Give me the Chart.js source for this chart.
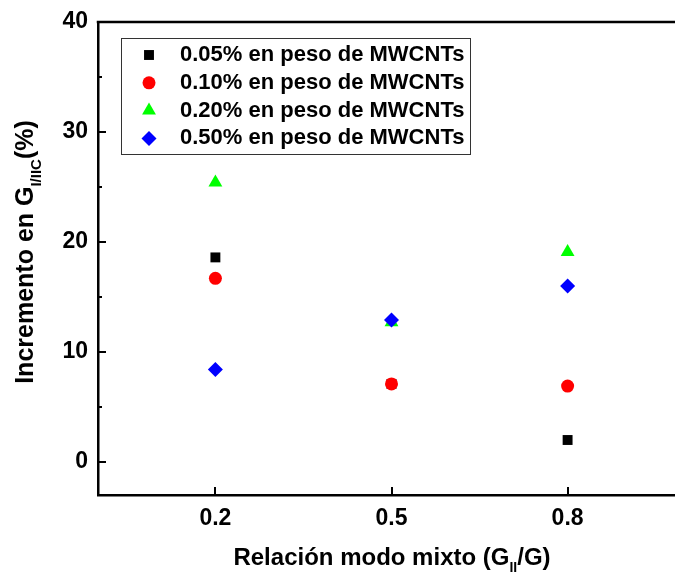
<!DOCTYPE html>
<html lang="es">
<head>
<meta charset="UTF-8">
<title>Incremento en G I/IIC</title>
<script src="https://cdn.jsdelivr.net/npm/chart.js@4.4.1/dist/chart.umd.min.js"></script>
<style>
    html, body { margin: 0; padding: 0; background: #fff; overflow: hidden; }
    #wrap { width: 700px; height: 573px; }
</style>
</head>
<body>
<div id="wrap"><canvas id="chart" width="700" height="573"></canvas></div>
<script>
// データ
const xValues = [0.2, 0.5, 0.8];
const serie005 = [18.6, 7.1, 2.0];
const serie010 = [16.7, 7.1, 6.9];
const serie020 = [25.4, 12.7, 19.1];
const serie050 = [8.4, 12.9, 16.0];
const seriesLabels = [
    '0.05% en peso de MWCNTs',
    '0.10% en peso de MWCNTs',
    '0.20% en peso de MWCNTs',
    '0.50% en peso de MWCNTs'
];
const xTicks = [0.2, 0.5, 0.8];
const yTicks = [0, 10, 20, 30, 40];
const yMinorTicks = [5, 15, 25, 35];

const FONT = '"Liberation Sans", Arial, Helvetica, sans-serif';

// 系列の見た目
const styles = [
    { color: '#000000', pointStyle: 'rect', radius: 7, order: 3 },
    { color: '#ff0000', pointStyle: 'circle', radius: 6.5, order: 2 },
    { color: '#00ff00', pointStyle: 'triangle', radius: 8, order: 1 },
    { color: '#0000ff', pointStyle: 'rectRot', radius: 7.5, order: 0 }
];
const seriesValues = [serie005, serie010, serie020, serie050];

const datasets = seriesValues.map((vals, i) => ({
    label: seriesLabels[i],
    data: xValues.map((x, j) => ({ x: x, y: vals[j] })),
    backgroundColor: styles[i].color,
    borderColor: styles[i].color,
    borderWidth: 0,
    pointStyle: styles[i].pointStyle,
    pointRadius: styles[i].radius,
    order: styles[i].order,
    showLine: false
}));

// 凡例の記号を描く
function drawMarker(ctx, style, x, y) {
    const r = style.radius;
    ctx.fillStyle = style.color;
    ctx.beginPath();
    if (style.pointStyle === 'rect') {
        const s = r * Math.SQRT1_2;
        ctx.rect(x - s, y - s, 2 * s, 2 * s);
    } else if (style.pointStyle === 'circle') {
        ctx.arc(x, y, r, 0, Math.PI * 2);
    } else if (style.pointStyle === 'triangle') {
        ctx.moveTo(x, y - r);
        ctx.lineTo(x + r * 0.866, y + r * 0.5);
        ctx.lineTo(x - r * 0.866, y + r * 0.5);
        ctx.closePath();
    } else {
        ctx.moveTo(x - r, y);
        ctx.lineTo(x, y - r);
        ctx.lineTo(x + r, y);
        ctx.lineTo(x, y + r);
        ctx.closePath();
    }
    ctx.fill();
}

// 下付き文字つきのテキストを描く
function drawRichText(ctx, parts, x, y, size) {
    const widths = parts.map(p => {
        ctx.font = 'bold ' + (p.sub ? Math.round(size * 0.6) : size) + 'px ' + FONT;
        return ctx.measureText(p.text).width;
    });
    const total = widths.reduce((a, b) => a + b, 0);
    let cx = x - total / 2;
    parts.forEach((p, i) => {
        ctx.font = 'bold ' + (p.sub ? Math.round(size * 0.6) : size) + 'px ' + FONT;
        ctx.fillText(p.text, cx, p.sub ? y + size * 0.3 : y);
        cx += widths[i];
    });
}

// 枠・目盛・凡例・軸タイトル
const decorations = {
    id: 'decorations',
    afterDraw(chart) {
        const { ctx, chartArea } = chart;
        const xs = chart.scales.x;
        const ys = chart.scales.y;
        ctx.save();
        ctx.strokeStyle = '#000';

        // 上の枠線
        ctx.lineWidth = 2.5;
        ctx.beginPath();
        ctx.moveTo(chartArea.left - 1.25, chartArea.top);
        ctx.lineTo(chartArea.right, chartArea.top);
        ctx.stroke();

        // 内向きの目盛
        ctx.lineWidth = 2;
        ctx.beginPath();
        yTicks.forEach(v => {
            const py = Math.round(ys.getPixelForValue(v));
            ctx.moveTo(chartArea.left, py);
            ctx.lineTo(chartArea.left + 8, py);
        });
        yMinorTicks.forEach(v => {
            const py = Math.round(ys.getPixelForValue(v));
            ctx.moveTo(chartArea.left, py);
            ctx.lineTo(chartArea.left + 4, py);
        });
        xTicks.forEach(v => {
            const px = Math.round(xs.getPixelForValue(v));
            ctx.moveTo(px, chartArea.bottom);
            ctx.lineTo(px, chartArea.bottom - 8);
        });
        ctx.stroke();

        // 凡例
        ctx.lineWidth = 1;
        ctx.strokeStyle = '#333';
        ctx.strokeRect(121.5, 38.5, 349, 116);
        ctx.textBaseline = 'middle';
        ctx.textAlign = 'left';
        seriesLabels.forEach((label, i) => {
            const ry = 55 + i * 27.8;
            drawMarker(ctx, styles[i], 149, ry);
            ctx.fillStyle = '#000';
            ctx.font = 'bold 22px ' + FONT;
            ctx.fillText(label, 180, ry);
        });

        // X軸タイトル
        ctx.fillStyle = '#000';
        ctx.textBaseline = 'alphabetic';
        drawRichText(ctx, [
            { text: 'Relación modo mixto (G' },
            { text: 'II', sub: true },
            { text: '/G)' }
        ], 392, 565, 24);

        // Y軸タイトル
        ctx.translate(33, 252);
        ctx.rotate(-Math.PI / 2);
        drawRichText(ctx, [
            { text: 'Incremento en G' },
            { text: 'I/IIC', sub: true },
            { text: '(%)' }
        ], 0, 0, 25);

        ctx.restore();
    }
};

const ctx = document.getElementById('chart').getContext('2d');
new Chart(ctx, {
    type: 'scatter',
    data: { datasets: datasets },
    plugins: [decorations],
    options: {
        responsive: false,
        animation: false,
        layout: { padding: { top: 22, right: 15, left: 0, bottom: 0 } },
        plugins: {
            legend: { display: false },
            tooltip: { enabled: false }
        },
        scales: {
            x: {
                type: 'linear',
                min: 0,
                max: 1,
                afterBuildTicks: axis => { axis.ticks = xTicks.map(v => ({ value: v })); },
                afterFit: axis => { axis.height = 78; },
                grid: { display: false },
                border: { display: true, color: '#000', width: 2.5 },
                ticks: {
                    color: '#000',
                    padding: 2,
                    font: { family: FONT, size: 23, weight: 'bold' },
                    callback: v => v.toFixed(1)
                }
            },
            y: {
                min: -3,
                max: 40,
                afterBuildTicks: axis => { axis.ticks = yTicks.map(v => ({ value: v })); },
                afterFit: axis => { axis.width = 98; },
                grid: { display: false },
                border: { display: true, color: '#000', width: 2.5 },
                ticks: {
                    color: '#000',
                    padding: 2,
                    font: { family: FONT, size: 23, weight: 'bold' }
                }
            }
        }
    }
});
</script>
</body>
</html>
